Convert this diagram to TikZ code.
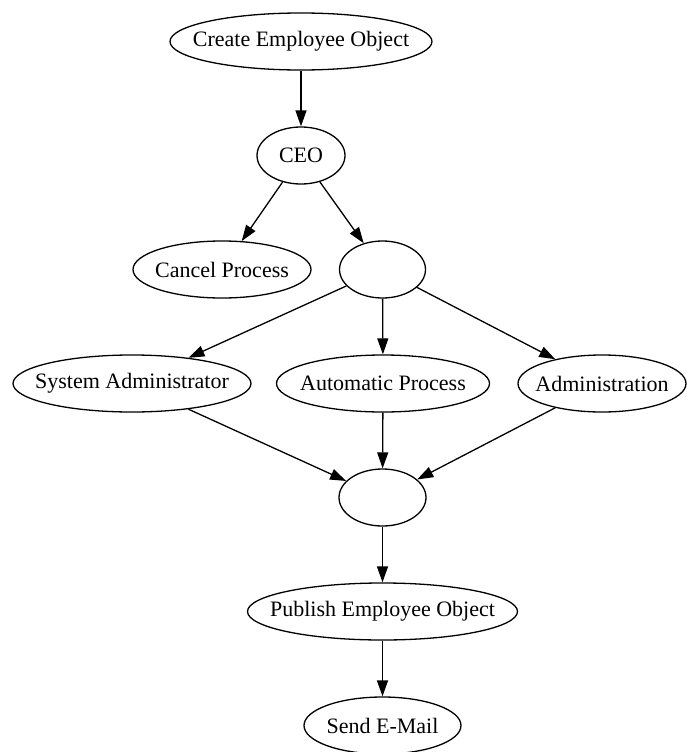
\documentclass[tikz,border=0pt]{standalone}
\usepackage{fontspec}
\setmainfont{Liberation Serif}
\usetikzlibrary{shapes.geometric,arrows.meta}
\begin{document}
\begin{tikzpicture}[x=1pt,y=-1pt,
  nd/.style={draw=black, fill=white, line width=1.3pt, ellipse, inner sep=0pt, minimum height=57pt, font=\fontsize{22}{26}\selectfont},
  edge/.style={draw=black, line width=1.3pt, -{Triangle[length=16pt,width=11pt]}}]
\useasboundingbox (0,0) rectangle (686,752);
\node[nd, minimum width=262pt] (create) at (301,41.5) {\makebox[0pt]{Create Employee Object}};
\node[nd, minimum width=88pt] (ceo) at (301,155.5) {\makebox[0pt]{CEO}};
\node[nd, minimum width=178pt] (cancel) at (222,269.5) {\makebox[0pt]{Cancel Process}};
\node[nd, minimum width=86pt] (split) at (382.5,269.5) {};
\node[nd, minimum width=238pt] (sysadm) at (132,383.5) {\makebox[0pt]{System Administrator}};
\node[nd, minimum width=213pt] (auto) at (383,383.5) {\makebox[0pt]{Automatic Process}};
\node[nd, minimum width=168pt] (admin) at (602,383.5) {\makebox[0pt]{Administration}};
\node[nd, minimum width=87pt] (join) at (382.5,497.5) {};
\node[nd, minimum width=270pt] (publish) at (382.5,611.5) {\makebox[0pt]{Publish Employee Object}};
\node[nd, minimum width=157pt] (send) at (382.5,725.5) {\makebox[0pt]{Send E-Mail}};
\draw[edge] (create) -- (ceo);
\draw[edge] (ceo) -- (cancel);
\draw[edge] (ceo) -- (split);
\draw[edge] (split) -- (sysadm);
\draw[edge] (split) -- (auto);
\draw[edge] (split) -- (admin);
\draw[edge] (sysadm) -- (join);
\draw[edge] (auto) -- (join);
\draw[edge] (admin) -- (join);
\draw[edge] (join) -- (publish);
\draw[edge] (publish) -- (send);
\end{tikzpicture}
\end{document}
